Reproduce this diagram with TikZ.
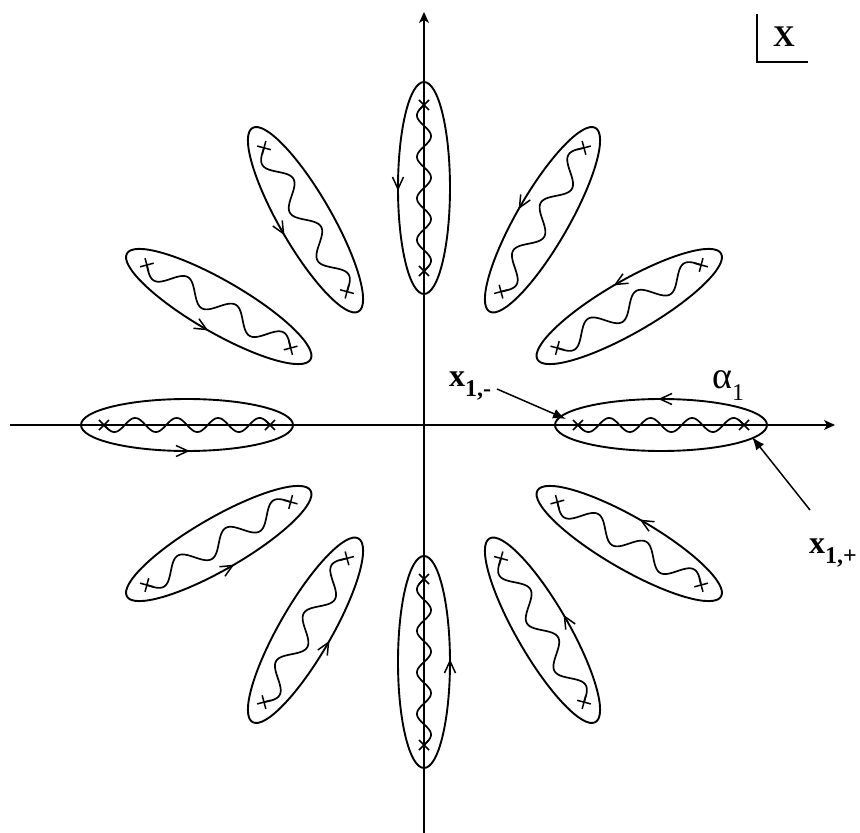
\documentclass[tikz,border=0pt]{standalone}
\usepackage{fontspec}
\setmainfont{Liberation Serif}
\usetikzlibrary{arrows.meta}
\begin{document}
\begin{tikzpicture}[x=1pt,y=1pt,
  axisline/.style={line width=1.3pt,-{Stealth[length=11pt,width=10pt,inset=3pt]}},
  loopcurve/.style={line width=1.9pt},
  chevron/.style={line width=1.5pt,line join=miter},
  wavy/.style={line width=1.7pt},
  crossmark/.style={line width=1.5pt},
  pointer/.style={line width=1.5pt,-{Latex[length=13pt,width=10pt]}},
  lab/.style={inner sep=0pt,font=\fontsize{32}{34}\selectfont\bfseries}
]
\useasboundingbox (-424,-408) rectangle (436,425);
% axes
\coordinate (xl) at (-414,0);
\coordinate (xr) at (411,0);
\coordinate (yb) at (0,-408);
\coordinate (yt) at (0,413);
\draw[axisline] (xl) -- (xr);
\draw[axisline] (yb) -- (yt);
% loops
\foreach \k in {0,...,11}{
  \pgfmathsetmacro\ang{30*\k}
  \pgfmathtruncatemacro\rem{mod(\k,3)}
  \ifnum\rem=0
    \pgfmathsetmacro\amp{7}\pgfmathsetmacro\freq{360/41.5}
  \else
    \pgfmathsetmacro\amp{10}\pgfmathsetmacro\freq{360/55.33}
  \fi
  \begin{scope}[shift={(\ang:237)},rotate=\ang]
    \draw[loopcurve] (0,0) ellipse [x radius=106,y radius=26];
    \draw[chevron] (11,31.5) -- (-1,26) -- (11,20.5);
    \draw[wavy] plot[domain=0:166,samples=160] ({\x-83},{-\amp*sin(\freq*\x)});
    \draw[crossmark] (-83,0) +(-5,-5) -- +(5,5) +(-5,5) -- +(5,-5);
    \draw[crossmark] (83,0) +(-5,-5) -- +(5,5) +(-5,5) -- +(5,-5);
  \end{scope}
}
% labels
\node[lab,anchor=base west] (xminus) at (25,38) {x\raisebox{-10pt}{\fontsize{24}{26}\selectfont 1,-}};
\coordinate (xminusstart) at (73,36);
\coordinate (xminustip) at (142,6);
\draw[pointer] (xminusstart) -- (xminustip);
\node[lab,anchor=base west] (xplus) at (385,-128) {x\raisebox{-10pt}{\fontsize{24}{26}\selectfont 1,+}};
\coordinate (xplusstart) at (386,-85);
\coordinate (xplustip) at (328,-12);
\draw[pointer] (xplusstart) -- (xplustip);
\node[inner sep=0pt,anchor=base west,font=\fontsize{38}{40}\selectfont] (alpha) at (288,37) {α\raisebox{-12pt}{\fontsize{24}{26}\selectfont 1}};
% plane label
\node[lab,font=\fontsize{30}{32}\selectfont\bfseries,anchor=base west] (plane) at (349,378) {X};
\coordinate (cornertop) at (333,411);
\coordinate (corner) at (333,363);
\coordinate (cornerright) at (384,363);
\draw[line width=1.5pt] (cornertop) -- (corner) -- (cornerright);
\end{tikzpicture}
\end{document}
